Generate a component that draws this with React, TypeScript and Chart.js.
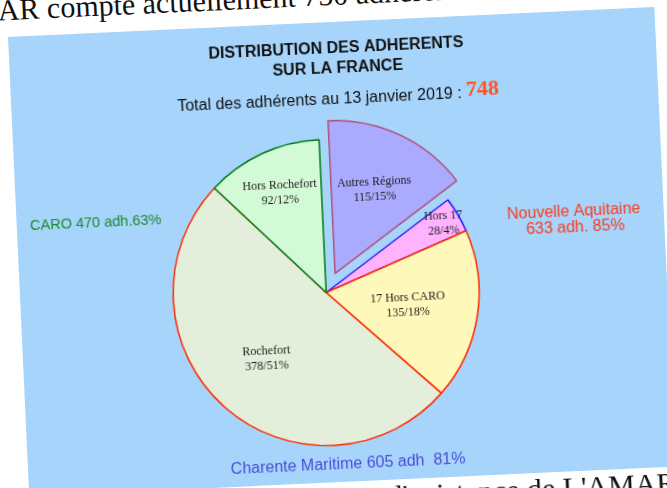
import React, { useEffect, useRef } from "react";
import { Chart, registerables } from "chart.js";

Chart.register(...registerables);

// ---- data ----
const categories = ["Autres Régions", "Hors 17", "17 Hors CARO", "Rochefort", "Hors Rochefort"];
const memberCounts = [115, 28, 135, 378, 92];
const totalMembers = 748;
const titleLines = ["DISTRIBUTION DES ADHERENTS", "SUR LA FRANCE"];
const totalLabel = "Total des adhérents au 13 janvier 2019 : ";
const totalValue = "748";
const caroLines = ["CARO 470 adh.63%"];
const aquitaineLines = ["Nouvelle Aquitaine", "633 adh. 85%"];
const charenteLines = ["Charente Maritime 605 adh  81%"];
const headerText = "AR compte actuellement 750 adhérents.";
const footerText = "d'existence de L'AMAR";

// ---- styles ----
const fillColors = ["#aaaafe", "#ffb3ff", "#fff8bb", "#e4efdb", "#d3fad7"];
const borderColors = ["#b0507c", "#1a1aff", "#ff2a00", "#ff2a00", "#007a10"];
const sliceShift = [21, 0, 0, 0, 0];
const labelRadius = [0.61, 0.89, 0.54, 0.58, 0.72];

const SANS = "'Liberation Sans', Arial, sans-serif";
const SERIF = "'Liberation Serif', 'Times New Roman', serif";

// Explodes slices by translating their drawing (exact pixel shift)
const explodePlugin = {
  id: "explode",
  afterUpdate(chart: any) {
    const meta = chart.getDatasetMeta(0);
    meta.data.forEach((arc: any, i: number) => {
      const shift = sliceShift[i] || 0;
      if (!shift || arc.__exploded) return;
      const orig = Object.getPrototypeOf(arc).draw;
      arc.__exploded = true;
      arc.draw = function (ctx: CanvasRenderingContext2D) {
        const mid = (this.startAngle + this.endAngle) / 2;
        ctx.save();
        ctx.translate(Math.cos(mid) * shift, Math.sin(mid) * shift);
        orig.call(this, ctx);
        ctx.restore();
      };
    });
  },
};

const annotatePlugin = {
  id: "annotate",
  afterDatasetsDraw(chart: any) {
    const ctx = chart.ctx as CanvasRenderingContext2D;
    const meta = chart.getDatasetMeta(0);
    ctx.save();
    ctx.textAlign = "center";
    ctx.textBaseline = "middle";
    ctx.font = `12px ${SERIF}`;
    ctx.fillStyle = "#1c1c1c";
    meta.data.forEach((arc: any, i: number) => {
      const p = arc.getProps(["x", "y", "startAngle", "endAngle", "outerRadius"], true);
      const mid = (p.startAngle + p.endAngle) / 2;
      const r = (sliceShift[i] || 0) + labelRadius[i] * p.outerRadius;
      const cx = p.x + Math.cos(mid) * r;
      const cy = p.y + Math.sin(mid) * r;
      const pct = Math.round((memberCounts[i] / totalMembers) * 100);
      ctx.fillText(categories[i], cx, cy - 7);
      ctx.fillText(`${memberCounts[i]}/${pct}%`, cx, cy + 8);
    });

    // Titles
    ctx.fillStyle = "#111";
    ctx.font = `bold 16px ${SANS}`;
    ctx.textBaseline = "alphabetic";
    ctx.fillText(titleLines[0], 327, 31);
    ctx.fillText(titleLines[1], 328, 51);

    // Total line (mixed styles)
    ctx.font = `16px ${SANS}`;
    const w1 = ctx.measureText(totalLabel).width;
    ctx.font = `bold 22px ${SERIF}`;
    const w2 = ctx.measureText(totalValue).width;
    const start = 327 - (w1 + w2) / 2;
    ctx.textAlign = "left";
    ctx.font = `16px ${SANS}`;
    ctx.fillStyle = "#111";
    ctx.fillText(totalLabel, start, 81.5);
    ctx.font = `bold 22px ${SERIF}`;
    ctx.fillStyle = "#ff5520";
    ctx.fillText(totalValue, start + w1, 80);

    // Side group labels
    ctx.textAlign = "center";
    ctx.textBaseline = "middle";
    ctx.font = `14.5px ${SANS}`;
    ctx.fillStyle = "#1e8a2c";
    ctx.fillText(caroLines[0], 79, 190);
    ctx.fillStyle = "#ff3a1c";
    ctx.font = `16px ${SANS}`;
    ctx.fillText(aquitaineLines[0], 557, 201);
    ctx.fillText(aquitaineLines[1], 558, 217);
    ctx.fillStyle = "#4b4dd6";
    ctx.fillText(charenteLines[0], 320, 443);
    ctx.restore();
  },
};

function PieChart() {
  const ref = useRef<HTMLCanvasElement | null>(null);
  useEffect(() => {
    if (!ref.current) return;
    const chart = new Chart(ref.current, {
      type: "pie",
      data: {
        labels: categories,
        datasets: [
          {
            data: memberCounts,
            backgroundColor: fillColors,
            borderColor: borderColors,
            borderWidth: 1.5,
          } as any,
        ],
      },
      options: {
        responsive: false,
        animation: false,
        radius: 153,
        layout: { padding: { left: 0, right: 35, top: 80, bottom: 0 } },
        plugins: {
          legend: { display: false },
          tooltip: { enabled: false },
          title: { display: false },
        },
      } as any,
      plugins: [explodePlugin, annotatePlugin],
    });
    return () => chart.destroy();
  }, []);
  return <canvas ref={ref} width={647} height={460} style={{ display: "block" }} />;
}

export default function App() {
  return (
    <div
      style={{
        position: "fixed",
        left: 0,
        top: 0,
        width: 667,
        height: 488,
        overflow: "hidden",
        background: "#ffffff",
      }}
    >
      <div
        style={{
          position: "absolute",
          left: 8,
          top: 37,
          width: 647,
          height: 460,
          transformOrigin: "0 0",
          transform: "rotate(-2.65deg)",
        }}
      >
        <div
          style={{
            position: "absolute",
            left: -9,
            top: -42,
            font: `30px ${SERIF}`,
            lineHeight: "30px",
            whiteSpace: "nowrap",
            color: "#111",
          }}
        >
          {headerText}
        </div>
        <div
          style={{
            position: "absolute",
            left: 0,
            top: 0,
            width: 647,
            height: 460,
            background: "#a6d4fb",
          }}
        >
          <PieChart />
        </div>
        <div
          style={{
            position: "absolute",
            left: 358,
            top: 461,
            font: `30px ${SERIF}`,
            lineHeight: "30px",
            whiteSpace: "nowrap",
            color: "#111",
          }}
        >
          {footerText}
        </div>
      </div>
    </div>
  );
}
